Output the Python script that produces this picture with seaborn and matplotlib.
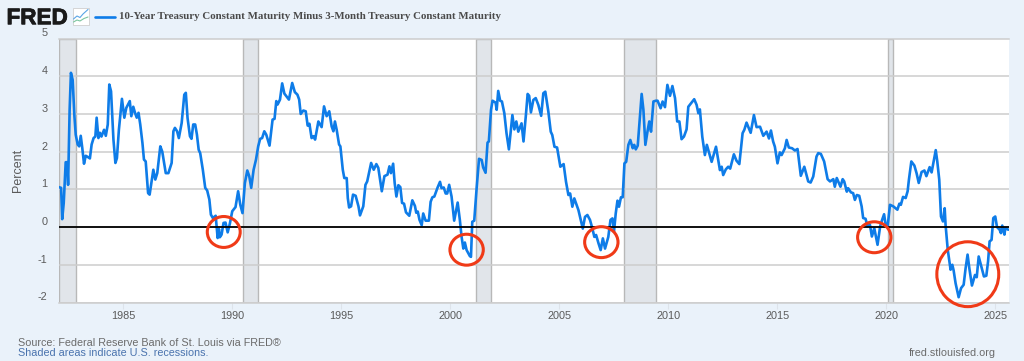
import numpy as np
import pandas as pd
import seaborn as sns
import matplotlib
matplotlib.use("Agg")
import matplotlib.pyplot as plt
import matplotlib.patheffects as pe
from matplotlib.patches import Ellipse, Rectangle
from matplotlib.lines import Line2D

years_a = [1982.04,1982.15,1982.2,1982.27,1982.36,1982.43,1982.47,1982.54,1982.6,1982.68,1982.76,1982.82,1982.91,1982.98,1983.05,1983.12,1983.2,1983.28,1983.37,1983.47,1983.55,1983.64,1983.72,1983.78,1983.86,1983.93,1984.0,1984.12,1984.2,1984.29,1984.36,1984.44,1984.55,1984.64,1984.71,1984.8,1984.94,1985.05,1985.14,1985.3,1985.37,1985.46,1985.54,1985.62,1985.7,1985.78,1985.88,1985.95,1986.03,1986.14,1986.21,1986.38,1986.47,1986.56,1986.7,1986.79,1986.95,1987.07,1987.22,1987.3,1987.37,1987.47,1987.55]
values_a = [1.06,1.04,0.21,0.64,1.72,1.72,1.12,3.1,4.09,3.9,2.94,2.45,2.19,2.14,2.42,2.1,1.68,1.89,1.86,1.82,2.19,2.36,2.4,2.9,2.36,2.5,2.4,2.58,2.42,2.72,3.78,3.6,2.32,1.7,1.83,2.58,3.4,2.9,3.16,3.34,2.94,3.19,3.03,2.9,3.03,2.72,2.23,1.79,1.74,0.9,0.86,1.52,1.26,1.43,2.14,2.0,1.43,1.43,1.7,2.54,2.63,2.54,2.36]

years_b = [1987.68,1987.8,1987.87,1987.95,1988.06,1988.13,1988.21,1988.3,1988.38,1988.46,1988.53,1988.65,1988.76,1988.85,1988.95,1989.02,1989.11,1989.24,1989.33,1989.39,1989.43,1989.51,1989.6,1989.69,1989.79,1989.89,1990.0,1990.15,1990.27,1990.37,1990.47,1990.58,1990.69,1990.78,1990.87,1990.98,1991.09,1991.19,1991.28,1991.37,1991.47,1991.56,1991.71,1991.85,1991.94,1992.02,1992.08,1992.19,1992.29,1992.39,1992.6,1992.75,1992.87,1992.99,1993.07,1993.14,1993.26,1993.37,1993.46,1993.54,1993.64,1993.73,1993.8,1993.95,1994.1,1994.21,1994.33,1994.45,1994.56,1994.64,1994.71,1994.79,1994.9,1994.96,1995.07,1995.14,1995.25,1995.3,1995.36,1995.45,1995.54,1995.66,1995.79,1995.86,1996.01,1996.11,1996.19,1996.37,1996.49,1996.61,1996.7,1996.86,1996.98,1997.12,1997.21,1997.28,1997.38,1997.45,1997.53,1997.62,1997.71,1997.79,1997.88,1997.97,1998.12,1998.26]
values_b = [2.76,3.51,3.56,2.89,2.41,2.34,2.72,2.72,2.45,2.05,1.96,1.52,1.04,0.97,0.73,0.33,0.24,0.3,-0.29,-0.05,-0.27,-0.2,0.11,0.12,-0.14,0.09,0.42,0.53,0.95,0.59,0.37,1.17,1.5,1.35,1.04,1.52,1.79,2.14,2.34,2.36,2.54,2.45,2.16,2.85,2.87,3.34,3.25,3.38,3.81,3.54,3.38,3.82,3.58,3.51,3.38,3.0,3.09,3.07,2.69,2.74,2.36,2.41,2.32,2.8,2.65,3.2,2.94,3.07,2.67,2.54,2.8,2.58,2.19,2.14,1.52,1.3,1.3,0.77,0.52,0.55,0.86,0.83,0.55,0.31,0.55,1.12,1.21,1.7,1.52,1.67,1.57,0.95,1.35,1.39,1.61,1.43,1.68,1.17,0.81,1.11,1.06,0.64,0.62,0.39,0.3,0.71]

years_c = [1998.38,1998.44,1998.51,1998.59,1998.69,1998.76,1998.87,1999.02,1999.1,1999.18,1999.27,1999.42,1999.53,1999.6,1999.7,1999.79,1999.86,1999.95,2000.06,2000.18,2000.34,2000.44,2000.52,2000.6,2000.67,2000.75,2000.9,2000.95,2001.01,2001.1,2001.21,2001.32,2001.44,2001.51,2001.62,2001.71,2001.77,2001.87,2001.94,2002.08,2002.13,2002.2,2002.29,2002.37,2002.48,2002.58,2002.69,2002.85,2002.94,2003.03,2003.12,2003.27,2003.36,2003.47,2003.55,2003.62,2003.7,2003.81,2003.92,2004.04,2004.17,2004.27,2004.36,2004.5,2004.61,2004.68,2004.78,2004.9,2005.05,2005.2,2005.31,2005.42,2005.5,2005.6,2005.69,2005.88,2006.08,2006.18,2006.29,2006.41,2006.52,2006.61,2006.69,2006.8,2006.9,2007.0,2007.1,2007.25,2007.35,2007.44,2007.51,2007.59,2007.67,2007.74,2007.83,2007.91,2007.99,2008.07,2008.17,2008.26,2008.37,2008.44,2008.51,2008.6,2008.78,2008.86,2008.95,2009.06,2009.13,2009.21,2009.32,2009.43]
values_c = [0.56,0.38,0.41,0.19,0.05,0.36,0.17,0.17,0.67,0.79,0.81,1.05,1.2,1.03,1.05,0.89,0.89,1.12,0.81,0.17,0.65,0.19,-0.26,-0.57,-0.41,-0.61,-0.77,-0.79,0.14,0.17,1.03,1.81,1.78,1.58,1.44,2.24,2.27,3.11,3.35,3.3,3.11,3.61,3.35,3.33,3.02,2.49,2.06,2.97,2.59,2.8,2.53,2.75,2.27,2.97,3.53,3.48,3.04,3.37,3.42,3.24,2.95,3.55,3.59,3.06,2.53,2.44,2.13,2.11,1.6,1.67,1.2,0.85,0.89,0.54,0.76,0.45,-0.04,0.27,0.32,0.19,-0.04,-0.26,-0.21,-0.43,-0.61,-0.3,-0.57,-0.26,0.19,0.23,-0.12,0.36,0.7,0.54,0.79,0.79,1.69,1.73,2.18,2.31,2.09,2.18,2.06,2.16,3.53,3.11,2.18,2.58,2.8,2.53,3.33,3.35]

years_d = [2009.51,2009.65,2009.74,2009.85,2009.96,2010.08,2010.19,2010.31,2010.41,2010.51,2010.61,2010.72,2010.84,2010.92,2011.04,2011.19,2011.3,2011.38,2011.45,2011.56,2011.68,2011.77,2011.84,2011.99,2012.19,2012.37,2012.45,2012.52,2012.64,2012.75,2012.84,2013.01,2013.13,2013.26,2013.41,2013.49,2013.59,2013.78,2013.93,2014.05,2014.21,2014.36,2014.51,2014.62,2014.71,2014.81,2014.89,2015.01,2015.12,2015.2,2015.35,2015.43,2015.53,2015.68,2015.81,2015.93,2016.08,2016.24,2016.42,2016.53,2016.65,2016.8,2016.88,2017.0,2017.15,2017.31,2017.42,2017.57,2017.64,2017.73,2017.9,2018.0,2018.07,2018.19,2018.25,2018.38,2018.48,2018.56,2018.65,2018.76,2018.87,2018.94,2019.05,2019.14,2019.25,2019.34,2019.45,2019.6,2019.72,2019.81,2019.9,2019.96,2020.06,2020.17,2020.32,2020.51,2020.6,2020.67,2020.77,2020.89,2020.98,2021.04,2021.15,2021.29,2021.39,2021.49,2021.62,2021.75,2021.84,2021.99,2022.08,2022.27,2022.34,2022.43,2022.51,2022.6,2022.68,2022.72,2022.82,2022.95,2023.03,2023.09,2023.18,2023.32,2023.43,2023.55,2023.64,2023.73,2023.81,2023.93,2024.07,2024.15,2024.24,2024.34,2024.48,2024.59,2024.67,2024.74,2024.83,2024.91,2025.0,2025.08,2025.2,2025.26,2025.32,2025.42,2025.46,2025.6]
values_d = [3.35,3.15,3.33,3.18,3.77,3.48,3.74,3.42,2.8,2.8,2.33,2.4,2.59,3.19,3.28,3.39,3.24,3.02,3.12,2.4,1.91,2.18,2.04,1.73,2.13,1.51,1.6,1.38,1.53,1.6,1.55,1.93,1.76,1.67,2.49,2.58,2.77,2.5,2.97,2.65,2.66,2.42,2.53,2.35,2.56,2.27,2.13,1.69,1.98,1.91,2.09,2.31,2.11,2.09,2.03,2.07,1.36,1.6,1.21,1.18,1.34,1.87,1.96,1.94,1.74,1.27,1.21,1.27,1.07,1.3,1.07,1.27,1.21,0.94,1.03,0.92,0.9,0.72,0.85,0.83,0.55,0.24,0.22,0.02,0.06,-0.25,-0.03,-0.47,0.02,0.19,0.34,0.11,0.0,0.59,0.55,0.46,0.62,0.59,0.8,0.77,0.95,1.26,1.74,1.63,1.43,1.17,1.46,1.5,1.35,1.59,1.45,2.04,1.74,1.26,0.28,0.15,0.5,0.06,-0.6,-1.13,-1.0,-1.15,-1.49,-1.86,-1.62,-1.53,-1.09,-0.73,-1.09,-1.55,-1.27,-1.33,-0.78,-1.0,-1.31,-1.29,-0.91,-0.38,-0.34,0.24,0.28,0.0,-0.07,-0.16,0.04,-0.2,-0.03,-0.07]

years = years_a + years_b + years_c + years_d
values = values_a + values_b + values_c + values_d

recession_start = [1981.5, 1990.5, 2001.2, 2007.95, 2020.08]
recession_end = [1982.85, 1991.17, 2001.87, 2009.45, 2020.3]

circle_x = [1989.61, 2000.75, 2006.93, 2019.45, 2023.74]
circle_y = [-0.13, -0.6, -0.40, -0.27, -1.25]
circle_w = [1.51, 1.53, 1.53, 1.53, 2.84]
circle_h = [0.82, 0.82, 0.82, 0.82, 1.72]

title = "10-Year Treasury Constant Maturity Minus 3-Month Treasury Constant Maturity"
x_ticks = [1985, 1990, 1995, 2000, 2005, 2010, 2015, 2020, 2025]
y_ticks = [-2, -1, 0, 1, 2, 3, 4, 5]

BG = "#EAF2FA"
BLUE = "#0E7CE8"
GRID = "#CDCDCD"
TXT = "#5A5A5A"
W, H = 1024, 361

sns.set_theme(style="white")
plt.rcParams["font.family"] = ["Liberation Sans", "DejaVu Sans"]
plt.rcParams["axes.unicode_minus"] = False

fig = plt.figure(figsize=(W / 100, H / 100), dpi=100, facecolor=BG)
ax = fig.add_axes([58.5 / W, 1 - 302.5 / H, (1009 - 58.5) / W, (302.5 - 38.5) / H], facecolor="white")

for a, b in zip(recession_start, recession_end):
    ax.axvspan(a, b, facecolor="#E1E5EA", edgecolor="#B8B8B8", linewidth=1.0, zorder=1)
ax.axvline(1982.04, color="#B8B8B8", lw=1.0, zorder=1)

df = pd.DataFrame({"year": years, "spread": values})
sns.lineplot(data=df, x="year", y="spread", ax=ax, color=BLUE, linewidth=1.9,
             estimator=None, sort=False, zorder=4, legend=False)

ax.axhline(0, color="black", lw=1.3, zorder=5)

ax.set_xlim(1982.03, 2025.63)
ax.set_ylim(-2, 5)
ax.set_xticks(x_ticks)
ax.set_yticks(y_ticks)
ax.set_xlabel("")
ax.set_ylabel("Percent", fontsize=9.0, color=TXT, labelpad=0)
ax.yaxis.set_label_coords((24 - 58.5) / (1009 - 58.5), 0.5)
ax.grid(axis="y", color=GRID, lw=1.1, zorder=2)
ax.set_axisbelow(False)
for ln in ax.get_ygridlines():
    ln.set_zorder(2)
ax.tick_params(axis="y", length=0, pad=8, labelsize=7.8, labelcolor=TXT)
ax.tick_params(axis="x", length=4, width=0.8, color="#DDE3EA", pad=2.2, labelsize=7.8, labelcolor=TXT, bottom=True)
for lab in ax.get_yticklabels():
    lab.set_verticalalignment("bottom")
for s in ["left", "right"]:
    ax.spines[s].set_visible(False)
for s in ["top", "bottom"]:
    ax.spines[s].set_visible(True)
    ax.spines[s].set_color(GRID)
    ax.spines[s].set_linewidth(1.1)
    ax.spines[s].set_zorder(3)

for cx, cy, cw, ch in zip(circle_x, circle_y, circle_w, circle_h):
    ax.add_patch(Ellipse((cx, cy), cw, ch, facecolor="none", edgecolor="#F03A17",
                         linewidth=2.2, zorder=6, clip_on=False))

def fx(p):
    return p / W
def fy(p):
    return 1 - p / H

# header
fig.text(fx(6.5), fy(24.2), "FRED", fontsize=16.2, fontweight="bold", color="#1A1A1A",
         family="Liberation Sans", va="baseline", ha="left",
         path_effects=[pe.withStroke(linewidth=0.6, foreground="#1A1A1A")])
fig.add_artist(Rectangle((fx(72.5), fy(24.5)), 16.5 / W, 16.5 / H, transform=fig.transFigure,
                         facecolor="white", edgecolor="#CFCFCF", linewidth=0.6))
fig.add_artist(Line2D([fx(73.5), fx(77), fx(80), fx(83), fx(88)],
                      [fy(19), fy(16), fy(17.5), fy(14), fy(9.5)],
                      transform=fig.transFigure, color="#5AA5E6", lw=0.8))
fig.add_artist(Line2D([fx(73.5), fx(77), fx(80), fx(84), fx(88)],
                      [fy(22), fy(20), fy(21), fy(18.5), fy(17)],
                      transform=fig.transFigure, color="#7CC6A0", lw=0.8))
fig.add_artist(Line2D([fx(95), fx(115)], [fy(16.5), fy(16.5)], transform=fig.transFigure,
                      color=BLUE, lw=1.9))
fig.text(fx(119), fy(16.5), title, fontsize=7.82, fontweight="bold", color="#4A4A4A",
         family="Liberation Serif", va="center", ha="left")

# footer
fig.text(fx(18), fy(342.5), "Source: Federal Reserve Bank of St. Louis via FRED\u00ae", fontsize=7.75,
         color="#6B6B6B", va="center", ha="left")
fig.text(fx(18), fy(353.5), "Shaded areas indicate U.S. recessions.", fontsize=7.75,
         color="#4A73AE", va="center", ha="left")
fig.text(fx(996), fy(353.5), "fred.stlouisfed.org", fontsize=7.75,
         color="#6B6B6B", va="center", ha="right")

fig.savefig("out.png", dpi=100, facecolor=BG)
